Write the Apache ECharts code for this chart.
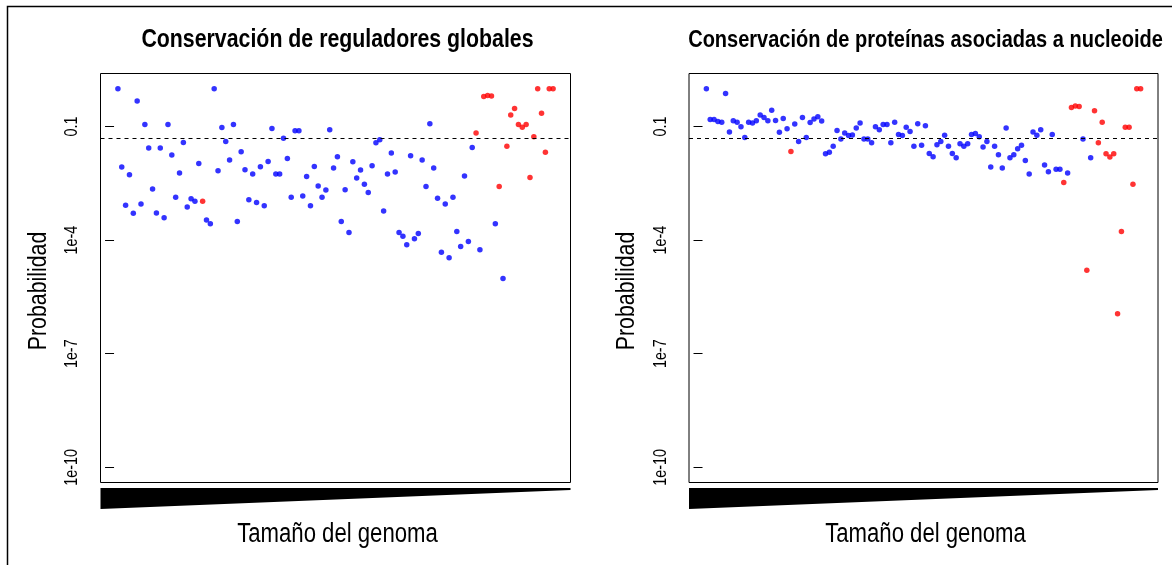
<!DOCTYPE html>
<html>
<head>
<meta charset="utf-8">
<title>Conservación</title>
<script src="https://cdn.jsdelivr.net/npm/echarts@6/dist/echarts.min.js"></script>
<style>
  html, body { margin: 0; padding: 0; background: #fff; }
  #chart { width: 1172px; height: 565px; }
</style>
</head>
<body>
<div id="chart"></div>
<script>
// Probability of conservation per genome, genomes ordered by genome size (1 = smallest)
const regulatorValues = [
  1, 8.5e-3, 8.3e-4, 5.3e-3, 5.1e-4, 0.47, 9.0e-4, 0.113, 2.7e-2, 2.24e-3,
  5.2e-4, 2.7e-2, 3.9e-4, 0.113, 1.76e-2, 1.35e-3, 5.9e-3, 3.8e-2, 7.5e-4, 1.24e-3,
  1.06e-3, 1.06e-2, 1.06e-3, 3.4e-4, 2.7e-4, 1, 6.8e-3, 9.4e-2, 4.0e-2, 1.3e-2,
  0.113, 3.1e-4, 2.15e-2, 7.2e-3, 1.17e-3, 5.6e-3, 9.9e-4, 8.7e-3, 8.1e-4, 1.2e-2,
  8.9e-2, 5.6e-3, 5.6e-3, 4.9e-2, 1.44e-2, 1.35e-3, 7.7e-2, 7.7e-2, 1.47e-3, 4.8e-3,
  8.1e-4, 8.8e-3, 2.7e-3, 1.35e-3, 2.1e-3, 8.2e-2, 8.0e-3, 1.6e-2, 3.1e-4, 2.15e-3,
  1.6e-4, 1.17e-2, 4.4e-3, 7.1e-3, 3.0e-3, 1.8e-3, 9.2e-3, 3.7e-2, 4.5e-2, 5.9e-4,
  5.6e-3, 2.0e-2, 6.3e-3, 1.6e-4, 1.26e-4, 7.6e-5, 1.7e-2, 1.08e-4, 1.5e-4, 1.3e-2,
  2.6e-3, 0.118, 8.0e-3, 1.27e-3, 4.8e-5, 9.0e-4, 3.4e-5, 1.35e-3, 1.68e-4, 6.8e-5,
  4.9e-3, 9.2e-5, 2.8e-2, 6.7e-2, 5.6e-5, 0.62, 0.66, 0.64, 2.7e-4, 2.6e-3,
  9.7e-6, 3.0e-2, 0.20, 0.30, 0.113, 9.6e-2, 0.113, 4.5e-3, 5.4e-2, 1,
  0.225, 2.1e-2, 1, 1
];

const nucleoidValues = [
  1, 0.153, 0.153, 0.135, 0.13, 0.74, 7.2e-2, 0.141, 0.13, 9.8e-2,
  5.1e-2, 0.13, 0.123, 0.141, 0.20, 0.173, 0.141, 0.27, 0.144, 7.1e-2,
  0.163, 8.7e-2, 2.2e-2, 0.116, 4.0e-2, 0.173, 5.1e-2, 0.127, 0.157, 0.18,
  0.139, 1.9e-2, 2.1e-2, 3.0e-2, 7.9e-2, 4.7e-2, 6.7e-2, 5.8e-2, 6.0e-2, 9.1e-2,
  0.123, 4.7e-2, 4.7e-2, 3.7e-2, 9.8e-2, 8.2e-2, 0.113, 0.113, 3.7e-2, 0.13,
  6.2e-2, 5.8e-2, 9.6e-2, 7.4e-2, 3.0e-2, 0.118, 3.2e-2, 0.104, 1.95e-2, 1.6e-2,
  3.3e-2, 4.0e-2, 5.9e-2, 3.0e-2, 1.95e-2, 1.5e-2, 3.5e-2, 3.0e-2, 3.5e-2, 6.2e-2,
  6.5e-2, 5.4e-2, 2.9e-2, 4.0e-2, 8.5e-3, 3.0e-2, 1.8e-2, 8.0e-3, 9.1e-2, 1.5e-2,
  1.8e-2, 2.6e-2, 3.2e-2, 1.27e-2, 5.6e-3, 7.2e-2, 5.9e-2, 8.2e-2, 9.6e-3, 6.4e-3,
  6.2e-2, 7.4e-3, 7.4e-3, 3.3e-3, 5.9e-3, 0.32, 0.35, 0.34, 4.7e-2, 1.6e-5,
  1.5e-2, 0.26, 3.7e-2, 0.13, 1.9e-2, 1.56e-2, 1.9e-2, 1.14e-6, 1.7e-4, 9.6e-2,
  9.6e-2, 3.0e-3, 1, 1
];

// Genomes (1-based position) drawn in red
const highlightedGenomes = [23, 94, 96, 97, 98, 100, 102, 103, 104, 105, 106, 107, 108, 109, 110, 111, 112, 113, 114];

const panelTitles = ['Conservación de reguladores globales', 'Conservación de proteínas asociadas a nucleoide'];
const titleSizes = [26, 24.4];
const xAxisTitle = 'Tamaño del genoma';
const yAxisTitle = 'Probabilidad';
const tickValues = [1e-10, 1e-7, 1e-4, 0.1];
const tickLabels = ['1e-10', '1e-7', '1e-4', '0.1'];
const threshold = 0.05;
const yLimits = [1e-10, 1];

// Helvetica-style face, horizontally condensed to a narrow cut
const FONT = "'Liberation Sans', Arial, sans-serif";
const NARROW = 0.82;

const tickExps = tickValues.map(Math.log10);
const yLo = Math.log10(yLimits[0]), yHi = Math.log10(yLimits[1]);
const yPad = (yHi - yLo) * 0.04;

const grids = [
  { left: 100.5, top: 73.5, width: 470, height: 409 },
  { left: 689, top: 73.5, width: 469, height: 409 }
];

function buildPanel(values, idx) {
  const n = values.length;
  const xPad = (n - 1) * 0.04;
  const blue = [], red = [];
  values.forEach((v, i) => {
    const pt = [i + 1, Math.log10(v)];
    if (highlightedGenomes.indexOf(i + 1) >= 0) red.push(pt); else blue.push(pt);
  });
  const xAxis = {
    gridIndex: idx, type: 'value', min: 1 - xPad, max: n + xPad,
    axisLine: { show: false }, axisTick: { show: false }, axisLabel: { show: false }, splitLine: { show: false }
  };
  const yAxis = {
    gridIndex: idx, type: 'value', min: yLo - yPad, max: yHi + yPad,
    axisLine: { show: false }, splitLine: { show: false },
    axisTick: { show: true, length: 9, customValues: tickExps, lineStyle: { color: '#000', width: 1 } },
    axisLabel: { show: false }
  };
  const series = [
    {
      type: 'scatter', xAxisIndex: idx, yAxisIndex: idx, data: blue,
      symbol: 'circle', symbolSize: 5.5, itemStyle: { color: '#0000ff' }, silent: true,
      markLine: {
        silent: true, symbol: 'none', label: { show: false },
        lineStyle: { color: '#000', width: 1.1, type: [4, 4] },
        data: [{ yAxis: Math.log10(threshold) }]
      }
    },
    {
      type: 'scatter', xAxisIndex: idx, yAxisIndex: idx, data: red,
      symbol: 'circle', symbolSize: 5.5, itemStyle: { color: '#ff0000' }, silent: true
    }
  ];
  return { xAxis, yAxis, series };
}

const panels = [buildPanel(regulatorValues, 0), buildPanel(nucleoidValues, 1)];

function narrowText(text, x, y, size, weight, rotation) {
  return {
    type: 'text', x: x, y: y, rotation: rotation || 0, scaleX: NARROW, silent: true,
    style: {
      text: text, fill: '#000', fontFamily: FONT, fontSize: size, fontWeight: weight || 'normal',
      align: 'center', verticalAlign: 'middle', textAlign: 'center', textVerticalAlign: 'middle'
    }
  };
}

// Decorative wedge under each panel: thick at the left, thin at the right
function wedge(g) {
  const x0 = g.left, x1 = g.left + g.width, top = g.top + g.height + 5.5;
  return {
    type: 'polygon',
    shape: { points: [[x0, top], [x1, top], [x1, top + 2], [x0, top + 21]] },
    style: { fill: '#000' }, silent: true
  };
}

const chart = echarts.init(document.getElementById('chart'), null, { renderer: 'canvas' });
chart.setOption({
  animation: false,
  backgroundColor: '#fff',
  grid: grids.map(g => Object.assign({ show: true, borderColor: '#000', borderWidth: 1, backgroundColor: 'transparent' }, g)),
  xAxis: panels.map(p => p.xAxis),
  yAxis: panels.map(p => p.yAxis),
  series: panels[0].series.concat(panels[1].series)
});

// Text placed from the axes' own pixel mapping
const texts = [
  { type: 'rect', shape: { x: 7.5, y: 6.5, width: 1400, height: 800 }, style: { fill: 'none', stroke: '#000', lineWidth: 1.5 }, silent: true }
];
grids.forEach((g, i) => {
  const cx = g.left + g.width / 2;
  texts.push(wedge(g));
  texts.push(narrowText(panelTitles[i], cx + 2, 40, titleSizes[i], 'bold'));
  texts.push(narrowText(xAxisTitle, cx + 2, 535, 27));
  texts.push(narrowText(yAxisTitle, g.left - 62, g.top + g.height / 2 + 13, 26, 'normal', Math.PI / 2));
  tickExps.forEach((e, k) => {
    const p = chart.convertToPixel({ gridIndex: i }, [0, e]);
    texts.push(narrowText(tickLabels[k], g.left - 28, p[1], 17.5, 'normal', Math.PI / 2));
  });
});
chart.setOption({ graphic: texts });
</script>
</body>
</html>
